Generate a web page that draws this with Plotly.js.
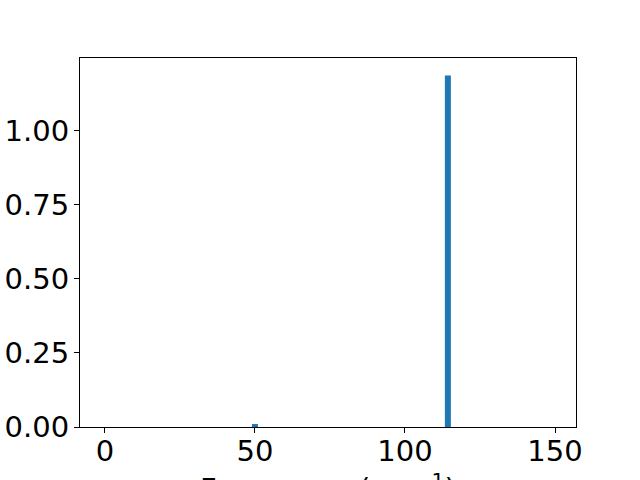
<!DOCTYPE html>
<html>
<head>
<meta charset="utf-8">
<script src="https://cdn.plot.ly/plotly-3.0.1.min.js"></script>
<style>html,body{margin:0;padding:0;background:#fff;}#chart{width:640px;height:480px;}</style>
</head>
<body>
<div id="chart"></div>
<script>
const frequencies = [50, 114.3];
const intensities = [0.01, 1.185];
const xTicks = [0, 50, 100, 150];
const yTicks = [0, 0.25, 0.5, 0.75, 1.0];
const xLabel = 'Frequency (cm<sup>\u22121</sup>)';

const trace = {
  type: 'bar',
  x: frequencies,
  y: intensities,
  width: 2,
  marker: {color: '#1f77b4', line: {width: 0}},
  hoverinfo: 'none'
};

const layout = {
  width: 640, height: 480,
  paper_bgcolor: '#fff', plot_bgcolor: '#fff',
  margin: {l: 80, r: 64, t: 58, b: 53},
  showlegend: false,
  font: {family: 'DejaVu Sans', size: 29, color: '#000'},
  xaxis: {
    range: [-8.3, 157],
    tickvals: xTicks,
    ticktext: xTicks.map(String),
    ticks: 'outside', ticklen: 5, tickwidth: 1, tickcolor: '#000',
    ticklabelstandoff: -7,
    showline: true, linecolor: '#000', linewidth: 1, mirror: true,
    showgrid: false, zeroline: false,
    tickfont: {family: 'DejaVu Sans', size: 29}
  },
  yaxis: {
    range: [0, 1.2444],
    tickvals: yTicks,
    ticktext: yTicks.map(v => v.toFixed(2)),
    ticks: 'outside', ticklen: 5, tickwidth: 1, tickcolor: '#000',
    ticklabelstandoff: -1,
    showline: true, linecolor: '#000', linewidth: 1, mirror: true,
    showgrid: false, zeroline: false,
    tickfont: {family: 'DejaVu Sans', size: 29}
  },
  annotations: [{
    text: xLabel,
    xref: 'paper', yref: 'paper', x: 0.5, y: 0,
    xanchor: 'center', yanchor: 'top', yshift: -39,
    showarrow: false,
    font: {family: 'DejaVu Sans', size: 29, color: '#000'}
  }]
};

Plotly.newPlot('chart', [trace], layout, {staticPlot: true, displayModeBar: false});
</script>
</body>
</html>
